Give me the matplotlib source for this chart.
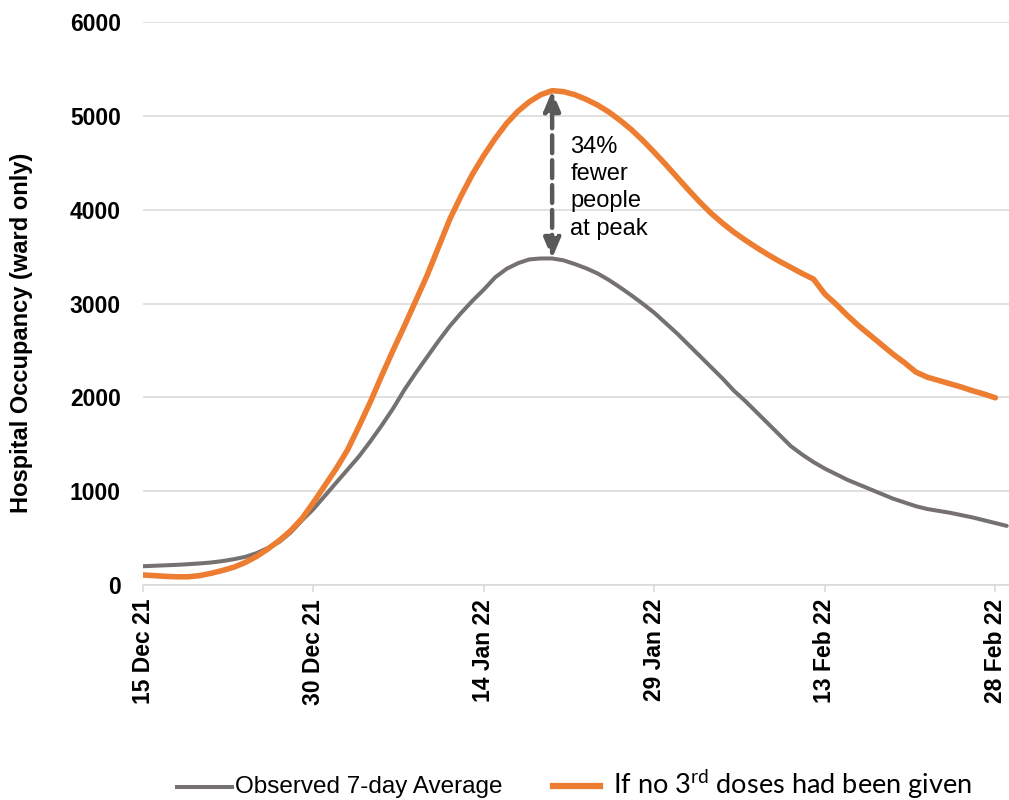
import numpy as np
import pandas as pd
import matplotlib
matplotlib.use('Agg')
import matplotlib.pyplot as plt
import matplotlib.dates as mdates
from matplotlib.lines import Line2D

plt.rcParams['font.family'] = ['Liberation Sans', 'DejaVu Sans']
plt.rcParams['mathtext.fontset'] = 'custom'
plt.rcParams['mathtext.rm'] = 'Lato'

# observed 7-day average, daily from 15 Dec 21
observed = [200, 205, 210, 215, 222, 230, 240, 255, 275, 300,
            340, 395, 460, 560, 690, 810, 950, 1090, 1230, 1370,
            1530, 1700, 1880, 2080, 2260, 2430, 2600, 2760, 2900, 3030,
            3150, 3280, 3370, 3430, 3470, 3480, 3480, 3460, 3420, 3375,
            3320, 3250, 3170, 3085, 2995, 2900, 2790, 2680, 2560, 2440,
            2320, 2200, 2070, 1960, 1840, 1720, 1600, 1480, 1390, 1310,
            1240, 1180, 1120, 1070, 1020, 970, 920, 880, 840, 810,
            790, 770, 745, 720, 690, 660, 630]

# counterfactual: no 3rd doses
no_booster = [107, 100, 92, 87, 88, 100, 125, 155, 190, 240,
              305, 385, 475, 580, 710, 880, 1060, 1240, 1440, 1690,
              1950, 2230, 2500, 2760, 3030, 3300, 3600, 3900, 4150, 4380,
              4580, 4760, 4920, 5050, 5150, 5225, 5268, 5258, 5225, 5175,
              5115, 5040, 4950, 4850, 4735, 4610, 4480, 4345, 4210, 4080,
              3960, 3855, 3760, 3675, 3595, 3520, 3450, 3385, 3320, 3260,
              3100, 2990, 2870, 2760, 2660, 2560, 2460, 2370, 2270, 2215,
              2180, 2145, 2110, 2070, 2035, 1995]

start = pd.Timestamp('2021-12-15')
obs_dates = pd.date_range(start, periods=len(observed))
nb_dates = pd.date_range(start, periods=len(no_booster))
tick_dates = pd.date_range(start, periods=6, freq='15D')
y_ticks = [0, 1000, 2000, 3000, 4000, 5000, 6000]

grey = '#767171'
orange = '#ED7D31'
grid_c = '#D9D9D9'

fig = plt.figure(figsize=(10.09, 8), dpi=100)
ax = fig.add_axes([143/1009, 215/800, 866/1009, 563/800])

ax.plot(obs_dates, observed, color=grey, lw=2.9, solid_capstyle='round', zorder=3)
ax.plot(nb_dates, no_booster, color=orange, lw=4.0, solid_capstyle='round', zorder=4)

ax.set_ylim(0, 6000)
ax.set_xlim(mdates.date2num(start), mdates.date2num(start) + 76.2)
ax.set_yticks(y_ticks)
ax.set_xticks(tick_dates)
ax.xaxis.set_major_formatter(mdates.DateFormatter('%d %b %y'))

ax.grid(axis='y', color=grid_c, lw=1.1, zorder=0)
ax.set_axisbelow(True)
for s in ['top', 'right', 'left']:
    ax.spines[s].set_visible(False)
ax.spines['bottom'].set_color(grid_c)
ax.spines['bottom'].set_linewidth(1.1)

ax.tick_params(axis='y', length=0, pad=16, labelsize=16.5)
ax.tick_params(axis='x', length=5, width=1.1, color=grid_c, pad=5,
               labelsize=16.5, labelrotation=90)
for lab in ax.get_xticklabels() + ax.get_yticklabels():
    lab.set_fontweight('bold')

ax.set_ylabel('Hospital Occupancy (ward only)', fontsize=17, fontweight='bold')
ax.yaxis.set_label_coords(-0.127, 0.448)

# peak difference arrow
i_peak = int(np.argmax(no_booster))
x_peak = nb_dates[i_peak]
ax.annotate('', xy=(x_peak, no_booster[i_peak]), xytext=(x_peak, max(observed)),
            arrowprops=dict(arrowstyle='<|-|>,head_length=1.2,head_width=0.5',
                            color='#595959', lw=3.2, ls=(0, (4, 1.6)),
                            shrinkA=0, shrinkB=0), zorder=5)
ax.text(x_peak + pd.Timedelta(days=1.6), 4790, '34%\nfewer\npeople\nat peak',
        fontsize=17, va='top', ha='left', color='black', linespacing=1.32)

# legend
fig.add_artist(Line2D([177/1009, 232/1009], [13/800, 13/800], color=grey, lw=2.9))
fig.text(235/1009, 7/800, 'Observed 7-day Average', fontsize=17.5, va='baseline')
fig.add_artist(Line2D([553/1009, 600/1009], [14/800, 14/800], color=orange, lw=4.5))
fig.text(613/1009, 6/800, 'If no 3$^{\\mathrm{rd}}$ doses had been given',
         fontsize=19.5, va='baseline', family=['Lato', 'DejaVu Sans'])

fig.savefig('out.png', dpi=100)
